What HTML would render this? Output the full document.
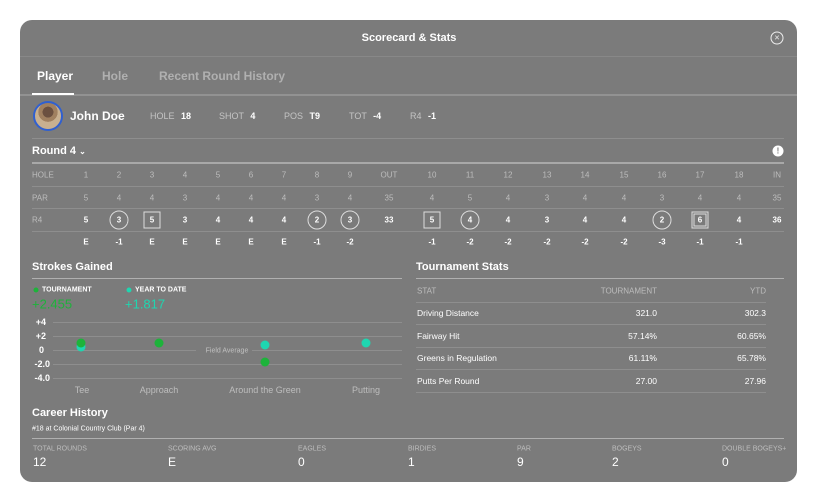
<!DOCTYPE html>
<html><head><meta charset="utf-8"><style>
*{margin:0;padding:0;box-sizing:border-box}
body{width:817px;height:502px;background:#fff;font-family:"Liberation Sans",sans-serif;position:relative;overflow:hidden}
#p{position:absolute;left:20px;top:20px;width:777px;height:462px;background:#7b7b7b;border-radius:12px}
.a{position:absolute;white-space:nowrap}
.w{color:#fff}
.g{color:#bdbdbd}
.b{font-weight:bold}
.c{transform:translateX(-50%)}
.r{transform:translateX(-100%)}
.m{transform:translateY(-50%)}
.cm{transform:translate(-50%,-50%)}
.rm{transform:translate(-100%,-50%)}
.l{position:absolute;height:1px;background:#8e8e8e}
.l2{position:absolute;height:2px;background:#a8a8a8}
.dot{position:absolute;width:9px;height:9px;border-radius:50%;transform:translate(-50%,-50%)}
.circ{position:absolute;width:19px;height:19px;border:1px solid #ddd;border-radius:50%;transform:translate(-50%,-50%)}
.sq{position:absolute;width:17px;height:17px;border:1px solid #ddd;transform:translate(-50%,-50%)}
</style></head><body>
<div id="p"></div>
<div class="a w b cm" style="left:409px;top:38px;font-size:11px">Scorecard &amp; Stats</div>
<div class="a cm" style="left:777px;top:38px;width:13px;height:13px;border:1.5px solid #eee;border-radius:50%;color:#eee;font-size:9px;line-height:10px;text-align:center">×</div>
<div class="l" style="left:20px;top:56px;width:777px;background:#888"></div>
<div class="a w b m" style="left:37px;top:76px;font-size:12px">Player</div>
<div class="a g b m" style="left:102px;top:76px;font-size:12px;color:#b0b0b0">Hole</div>
<div class="a g b m" style="left:159px;top:76px;font-size:12px;color:#b0b0b0">Recent Round History</div>
<div class="l" style="left:20px;top:94px;width:777px;height:2px;background:#929292"></div>
<div class="a" style="left:32px;top:93px;width:42px;height:2px;background:#fff"></div>
<div class="a" style="left:33px;top:101px;width:30px;height:30px;border-radius:50%;border:2px solid #3060d0;background:radial-gradient(circle at 50% 35%,#6b5040 0 25%,#a08060 26% 45%,#c8b090 46%)"></div>
<div class="a w b m" style="left:70px;top:116px;font-size:12px">John Doe</div>
<div class="a m" style="left:150px;top:116px;font-size:9px;color:#c4c4c4">HOLE <b style="color:#fff;margin-left:4px">18</b></div>
<div class="a m" style="left:219px;top:116px;font-size:9px;color:#c4c4c4">SHOT <b style="color:#fff;margin-left:4px">4</b></div>
<div class="a m" style="left:284px;top:116px;font-size:9px;color:#c4c4c4">POS <b style="color:#fff;margin-left:4px">T9</b></div>
<div class="a m" style="left:349px;top:116px;font-size:9px;color:#c4c4c4">TOT <b style="color:#fff;margin-left:4px">-4</b></div>
<div class="a m" style="left:410px;top:116px;font-size:9px;color:#c4c4c4">R4 <b style="color:#fff;margin-left:4px">-1</b></div>
<div class="l" style="left:32px;top:138px;width:752px"></div>
<div class="a w b m" style="left:32px;top:151px;font-size:11px">Round 4 <span style="font-size:8px">⌄</span></div>
<div class="a cm" style="left:778px;top:151px;width:11px;height:11px;border-radius:50%;background:#fff;color:#7b7b7b;font-size:8px;font-weight:bold;text-align:center;line-height:11px">!</div>
<div class="l2" style="left:32px;top:162px;width:752px"></div>
<div class="l" style="left:32px;top:186px;width:752px"></div>
<div class="l" style="left:32px;top:208px;width:752px"></div>
<div class="l" style="left:32px;top:231px;width:752px"></div>
<div id="sc"></div>
<div class="a w b m" style="left:32px;top:267px;font-size:11px">Strokes Gained</div>
<div class="l" style="left:32px;top:278px;width:370px;background:#b0b0b0"></div>
<div class="dot" style="left:36px;top:290px;width:5px;height:5px;background:#1db33a"></div>
<div class="a w b m" style="left:42px;top:290px;font-size:7px">TOURNAMENT</div>
<div class="dot" style="left:129px;top:290px;width:5px;height:5px;background:#1fd6b0"></div>
<div class="a w b m" style="left:135px;top:290px;font-size:7px">YEAR TO DATE</div>
<div class="a m" style="left:32px;top:304px;font-size:13px;color:#1db33a">+2.455</div>
<div class="a m" style="left:125px;top:304px;font-size:13px;color:#1fd6b0">+1.817</div>
<div class="a w b rm" style="left:46px;top:322px;font-size:9px">+4</div>
<div class="a w b rm" style="left:46px;top:336px;font-size:9px">+2</div>
<div class="a w b rm" style="left:44px;top:350px;font-size:9px">0</div>
<div class="a w b rm" style="left:50px;top:364px;font-size:9px">-2.0</div>
<div class="a w b rm" style="left:50px;top:378px;font-size:9px">-4.0</div>
<div class="l" style="left:53px;top:322px;width:349px"></div>
<div class="l" style="left:53px;top:336px;width:349px"></div>
<div class="l" style="left:53px;top:350px;width:143px"></div>
<div class="l" style="left:252px;top:350px;width:150px"></div>
<div class="l" style="left:53px;top:364px;width:349px"></div>
<div class="l" style="left:53px;top:378px;width:349px"></div>
<div class="a cm" style="left:227px;top:351px;font-size:7px;color:#c0c0c0">Field Average</div>
<div class="dot" style="left:81px;top:347px;background:#1fd6b0"></div>
<div class="dot" style="left:81px;top:343px;background:#1db33a"></div>
<div class="dot" style="left:159px;top:343px;background:#1db33a"></div>
<div class="dot" style="left:265px;top:345px;background:#1fd6b0"></div>
<div class="dot" style="left:265px;top:362px;background:#1db33a"></div>
<div class="dot" style="left:366px;top:343px;background:#1fd6b0"></div>
<div class="a g cm" style="left:82px;top:390px;font-size:9px">Tee</div>
<div class="a g cm" style="left:159px;top:390px;font-size:9px">Approach</div>
<div class="a g cm" style="left:265px;top:390px;font-size:9px">Around the Green</div>
<div class="a g cm" style="left:366px;top:390px;font-size:9px">Putting</div>
<div class="a w b m" style="left:416px;top:267px;font-size:11px">Tournament Stats</div>
<div class="l" style="left:416px;top:278px;width:368px;background:#b0b0b0"></div>
<div class="a g m" style="left:417px;top:291px;font-size:8px">STAT</div>
<div class="a g rm" style="left:657px;top:291px;font-size:8px">TOURNAMENT</div>
<div class="a g rm" style="left:766px;top:291px;font-size:8px">YTD</div>
<div id="ts"></div>
<div class="a w b m" style="left:32px;top:413px;font-size:11px">Career History</div>
<div class="a w m" style="left:32px;top:429px;font-size:7px">#18 at Colonial Country Club (Par 4)</div>
<div class="l" style="left:32px;top:438px;width:752px;background:#b0b0b0"></div>
<div id="ch"></div>
<script>
function add(h){document.body.insertAdjacentHTML('beforeend',h)}
var xs=[86,119,152,185,218,251,284,317,350,389,432,470,508,547,585,624,662,700,739,777];
var hole=['1','2','3','4','5','6','7','8','9','OUT','10','11','12','13','14','15','16','17','18','IN'];
var par=[5,4,4,3,4,4,4,3,4,35,4,5,4,3,4,4,3,4,4,35];
var r4=[5,3,5,3,4,4,4,2,3,33,5,4,4,3,4,4,2,6,4,36];
var mk=['','c','s','','','','','c','c','','s','c','','','','','c','d','',''];
var df=['E','-1','E','E','E','E','E','-1','-2','','-1','-2','-2','-2','-2','-2','-3','-1','-1',''];
add('<div class="a g m" style="left:32px;top:175px;font-size:8px">HOLE</div><div class="a g m" style="left:32px;top:198px;font-size:8px">PAR</div><div class="a g m" style="left:32px;top:220px;font-size:8px">R4</div>');
for(var i=0;i<20;i++){var x=xs[i];
add('<div class="a g cm" style="left:'+x+'px;top:175px;font-size:8px">'+hole[i]+'</div>');
add('<div class="a g cm" style="left:'+x+'px;top:198px;font-size:8px">'+par[i]+'</div>');
if(mk[i]=='c')add('<div class="circ" style="left:'+x+'px;top:220px"></div>');
if(mk[i]=='s')add('<div class="sq" style="left:'+x+'px;top:220px"></div>');
if(mk[i]=='d')add('<div class="sq" style="left:'+x+'px;top:220px;border:3px double #ddd"></div>');
add('<div class="a w b cm" style="left:'+x+'px;top:220px;font-size:8px">'+r4[i]+'</div>');
add('<div class="a w b cm" style="left:'+x+'px;top:242px;font-size:8px">'+df[i]+'</div>');}
var st=[['Driving Distance','321.0','302.3'],['Fairway Hit','57.14%','60.65%'],['Greens in Regulation','61.11%','65.78%'],['Putts Per Round','27.00','27.96']];
var ly=[302,324,347,369,392],ry=[313,336,358,381];
for(var j=0;j<5;j++)add('<div class="l" style="left:416px;top:'+ly[j]+'px;width:350px"></div>');
for(var j=0;j<4;j++){add('<div class="a w m" style="left:417px;top:'+ry[j]+'px;font-size:8.5px">'+st[j][0]+'</div><div class="a w rm" style="left:657px;top:'+ry[j]+'px;font-size:8.5px">'+st[j][1]+'</div><div class="a w rm" style="left:766px;top:'+ry[j]+'px;font-size:8.5px">'+st[j][2]+'</div>');}
var cx=[33,168,298,408,517,612,722],cl=['TOTAL ROUNDS','SCORING AVG','EAGLES','BIRDIES','PAR','BOGEYS','DOUBLE BOGEYS+'],cv=['12','E','0','1','9','2','0'];
for(var k=0;k<7;k++)add('<div class="a g m" style="left:'+cx[k]+'px;top:449px;font-size:7px">'+cl[k]+'</div><div class="a w m" style="left:'+cx[k]+'px;top:462px;font-size:12px">'+cv[k]+'</div>');
</script>
</body></html>
